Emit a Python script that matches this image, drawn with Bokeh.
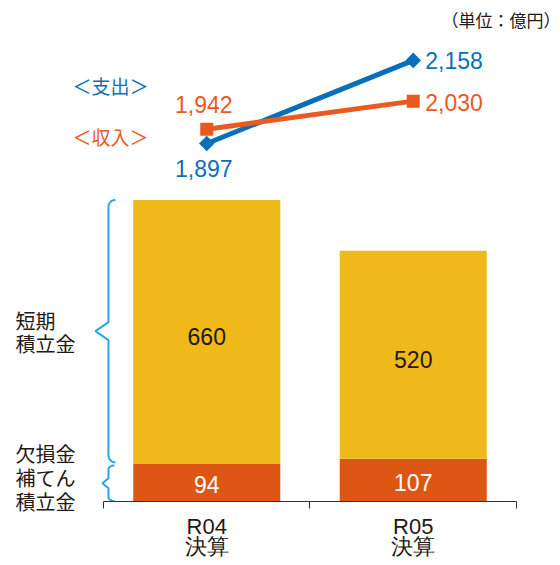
import numpy as np
from bokeh.plotting import figure
from bokeh.models import Range1d, FixedTicker
from bokeh.core.properties import value
from bokeh.embed import file_html
from bokeh.resources import INLINE

# ---------------- data ----------------
categories = ["R04", "R05"]
category_labels = ["R04\n決算", "R05\n決算"]
lossfill_reserve = [94, 107]      # 欠損金補てん積立金
short_reserve = [660, 520]        # 短期積立金
income = [1942, 2030]             # 収入
expense = [1897, 2158]            # 支出
unit_text = "（単位：億円）"
label_short = "短期\n積立金"
label_lossfill = "欠損金\n補てん\n積立金"
label_expense = "＜支出＞"
label_income = "＜収入＞"

# ---------------- styles ----------------
YELLOW = "#EFB91A"
DORANGE = "#DE5614"
ORANGE = "#EA5A1F"
BLUE = "#0A6FBA"
BRACE = "#2AA7E2"
DARK = "#231815"
NUM_FONT = value("Liberation Sans")
JP_FONT = value("Noto Sans CJK JP")

xs = [i + 0.5 for i in range(len(categories))]
totals = [a + b for a, b in zip(lossfill_reserve, short_reserve)]

PX_X = 1 / 206.5      # data units per pixel (x)
PX_Y = 2.5            # data units per pixel (bars)

p = figure(frame_width=560, frame_height=565,
           x_range=Range1d(-0.4988, 2.2131), y_range=Range1d(-160, 1252.5),
           y_axis_location=None, output_backend="svg", toolbar_location=None,
           min_border=0, min_border_left=0, min_border_right=0,
           min_border_top=0, min_border_bottom=0)
p.extra_y_ranges = {"line": Range1d(572, 2346)}
p.outline_line_color = None
p.grid.visible = False
p.background_fill_color = "white"
p.border_fill_color = "white"

ax = p.xaxis[0]
ax.fixed_location = 0
ax.ticker = FixedTicker(ticks=xs, minor_ticks=[0, 1, 2])
ax.bounds = (0, len(categories))
ax.major_label_overrides = {x: lab for x, lab in zip(xs, category_labels)}
ax.axis_line_color = "#333333"
ax.axis_line_width = 1
ax.major_tick_in = 0
ax.major_tick_out = 0
ax.minor_tick_in = 0
ax.minor_tick_out = 7
ax.minor_tick_line_color = "#333333"
ax.major_label_text_font = "Liberation Sans"
ax.major_label_text_font_size = "22px"
ax.major_label_text_color = DARK
ax.major_label_text_line_height = 0.8
ax.major_label_standoff = 5

# ---------------- bars ----------------
BAR_W = 0.712
p.vbar(x=xs, bottom=0, top=lossfill_reserve, width=BAR_W,
       fill_color=DORANGE, line_color=None)
p.vbar(x=xs, bottom=lossfill_reserve, top=totals, width=BAR_W,
       fill_color=YELLOW, line_color=None)

p.text(x=xs, y=[(a + t) / 2 for a, t in zip(lossfill_reserve, totals)],
       text=[str(v) for v in short_reserve], text_align="center",
       text_baseline="middle", y_offset=5, text_font=NUM_FONT,
       text_font_size="23px", text_color=DARK)
p.text(x=xs, y=[a / 2 for a in lossfill_reserve],
       text=[str(v) for v in lossfill_reserve], text_align="center",
       text_baseline="middle", y_offset=2, text_font=NUM_FONT,
       text_font_size="23px", text_color="white")

# ---------------- lines ----------------
p.line(xs, expense, y_range_name="line", line_color=BLUE, line_width=5)
p.scatter(xs, expense, y_range_name="line", marker="square", size=11,
          angle=np.pi / 4, fill_color=BLUE, line_color=None)
p.line(xs, income, y_range_name="line", line_color=ORANGE, line_width=5)
p.scatter(xs, income, y_range_name="line", marker="square", size=13,
          fill_color=ORANGE, line_color=None)

fmt = lambda v: f"{v:,}"
p.text(x=[xs[0]], y=[income[0]], text=[fmt(income[0])], y_range_name="line",
       text_align="center", text_baseline="middle", x_offset=-3, y_offset=-25,
       text_font=NUM_FONT, text_font_size="23px", text_color=ORANGE)
p.text(x=[xs[0]], y=[expense[0]], text=[fmt(expense[0])], y_range_name="line",
       text_align="center", text_baseline="middle", x_offset=-3, y_offset=25,
       text_font=NUM_FONT, text_font_size="23px", text_color=BLUE)
p.text(x=[xs[1]], y=[income[1]], text=[fmt(income[1])], y_range_name="line",
       text_align="left", text_baseline="middle", x_offset=12, y_offset=1,
       text_font=NUM_FONT, text_font_size="23px", text_color=ORANGE)
p.text(x=[xs[1]], y=[expense[1]], text=[fmt(expense[1])], y_range_name="line",
       text_align="left", text_baseline="middle", x_offset=12, y_offset=0,
       text_font=NUM_FONT, text_font_size="23px", text_color=BLUE)

# series names
p.text(x=[0.034], y=[2079], text=[label_expense], y_range_name="line",
       text_align="center", text_baseline="middle", text_font=JP_FONT,
       text_font_size="19px", text_color=BLUE)
p.text(x=[0.034], y=[1920], text=[label_income], y_range_name="line",
       text_align="center", text_baseline="middle", text_font=JP_FONT,
       text_font_size="19px", text_color=ORANGE)

# unit
p.text(x=[2.2131], y=[1205], text=[unit_text], text_align="right",
       text_baseline="middle", text_font=JP_FONT, text_font_size="17px",
       text_color=DARK)

# ---------------- braces & side labels ----------------
def brace(x0, y_top, y_bot, curl_px, tip_px, r_px, h_px):
    t = np.linspace(0, np.pi / 2, 14)
    cx = x0 + curl_px * PX_X
    cy1 = y_top - r_px * PX_Y
    top_x = cx - curl_px * PX_X * np.sin(t)
    top_y = cy1 + r_px * PX_Y * np.cos(t)
    mid = (y_top + y_bot) / 2
    mid_x = [x0, x0 - tip_px * PX_X, x0]
    mid_y = [mid + h_px * PX_Y, mid, mid - h_px * PX_Y]
    cy2 = y_bot + r_px * PX_Y
    bot_x = cx - curl_px * PX_X * np.cos(t)
    bot_y = cy2 - r_px * PX_Y * np.sin(t)
    return (np.concatenate([top_x, mid_x, bot_x]),
            np.concatenate([top_y, mid_y, bot_y]))

bx = 0.024
b1x, b1y = brace(bx, totals[0], lossfill_reserve[0] + 1.5 * PX_Y, 7, 13, 7, 9)
b2x, b2y = brace(bx, lossfill_reserve[0] - 1.5 * PX_Y, 0.5 * PX_Y, 6, 6, 4, 5)
p.line(b1x, b1y, line_color=BRACE, line_width=2)
p.line(b2x, b2y, line_color=BRACE, line_width=2)

p.text(x=[-0.426], y=[(lossfill_reserve[0] + totals[0]) / 2], text=[label_short],
       text_align="left", text_baseline="middle", text_font=JP_FONT,
       text_font_size="20px", text_color=DARK, text_line_height=0.82)
p.text(x=[-0.426], y=[lossfill_reserve[0] / 2 + 5 * PX_Y], text=[label_lossfill],
       text_align="left", text_baseline="middle", text_font=JP_FONT,
       text_font_size="20px", text_color=DARK, text_line_height=0.82)

open("out.html", "w").write(file_html(p, INLINE))
